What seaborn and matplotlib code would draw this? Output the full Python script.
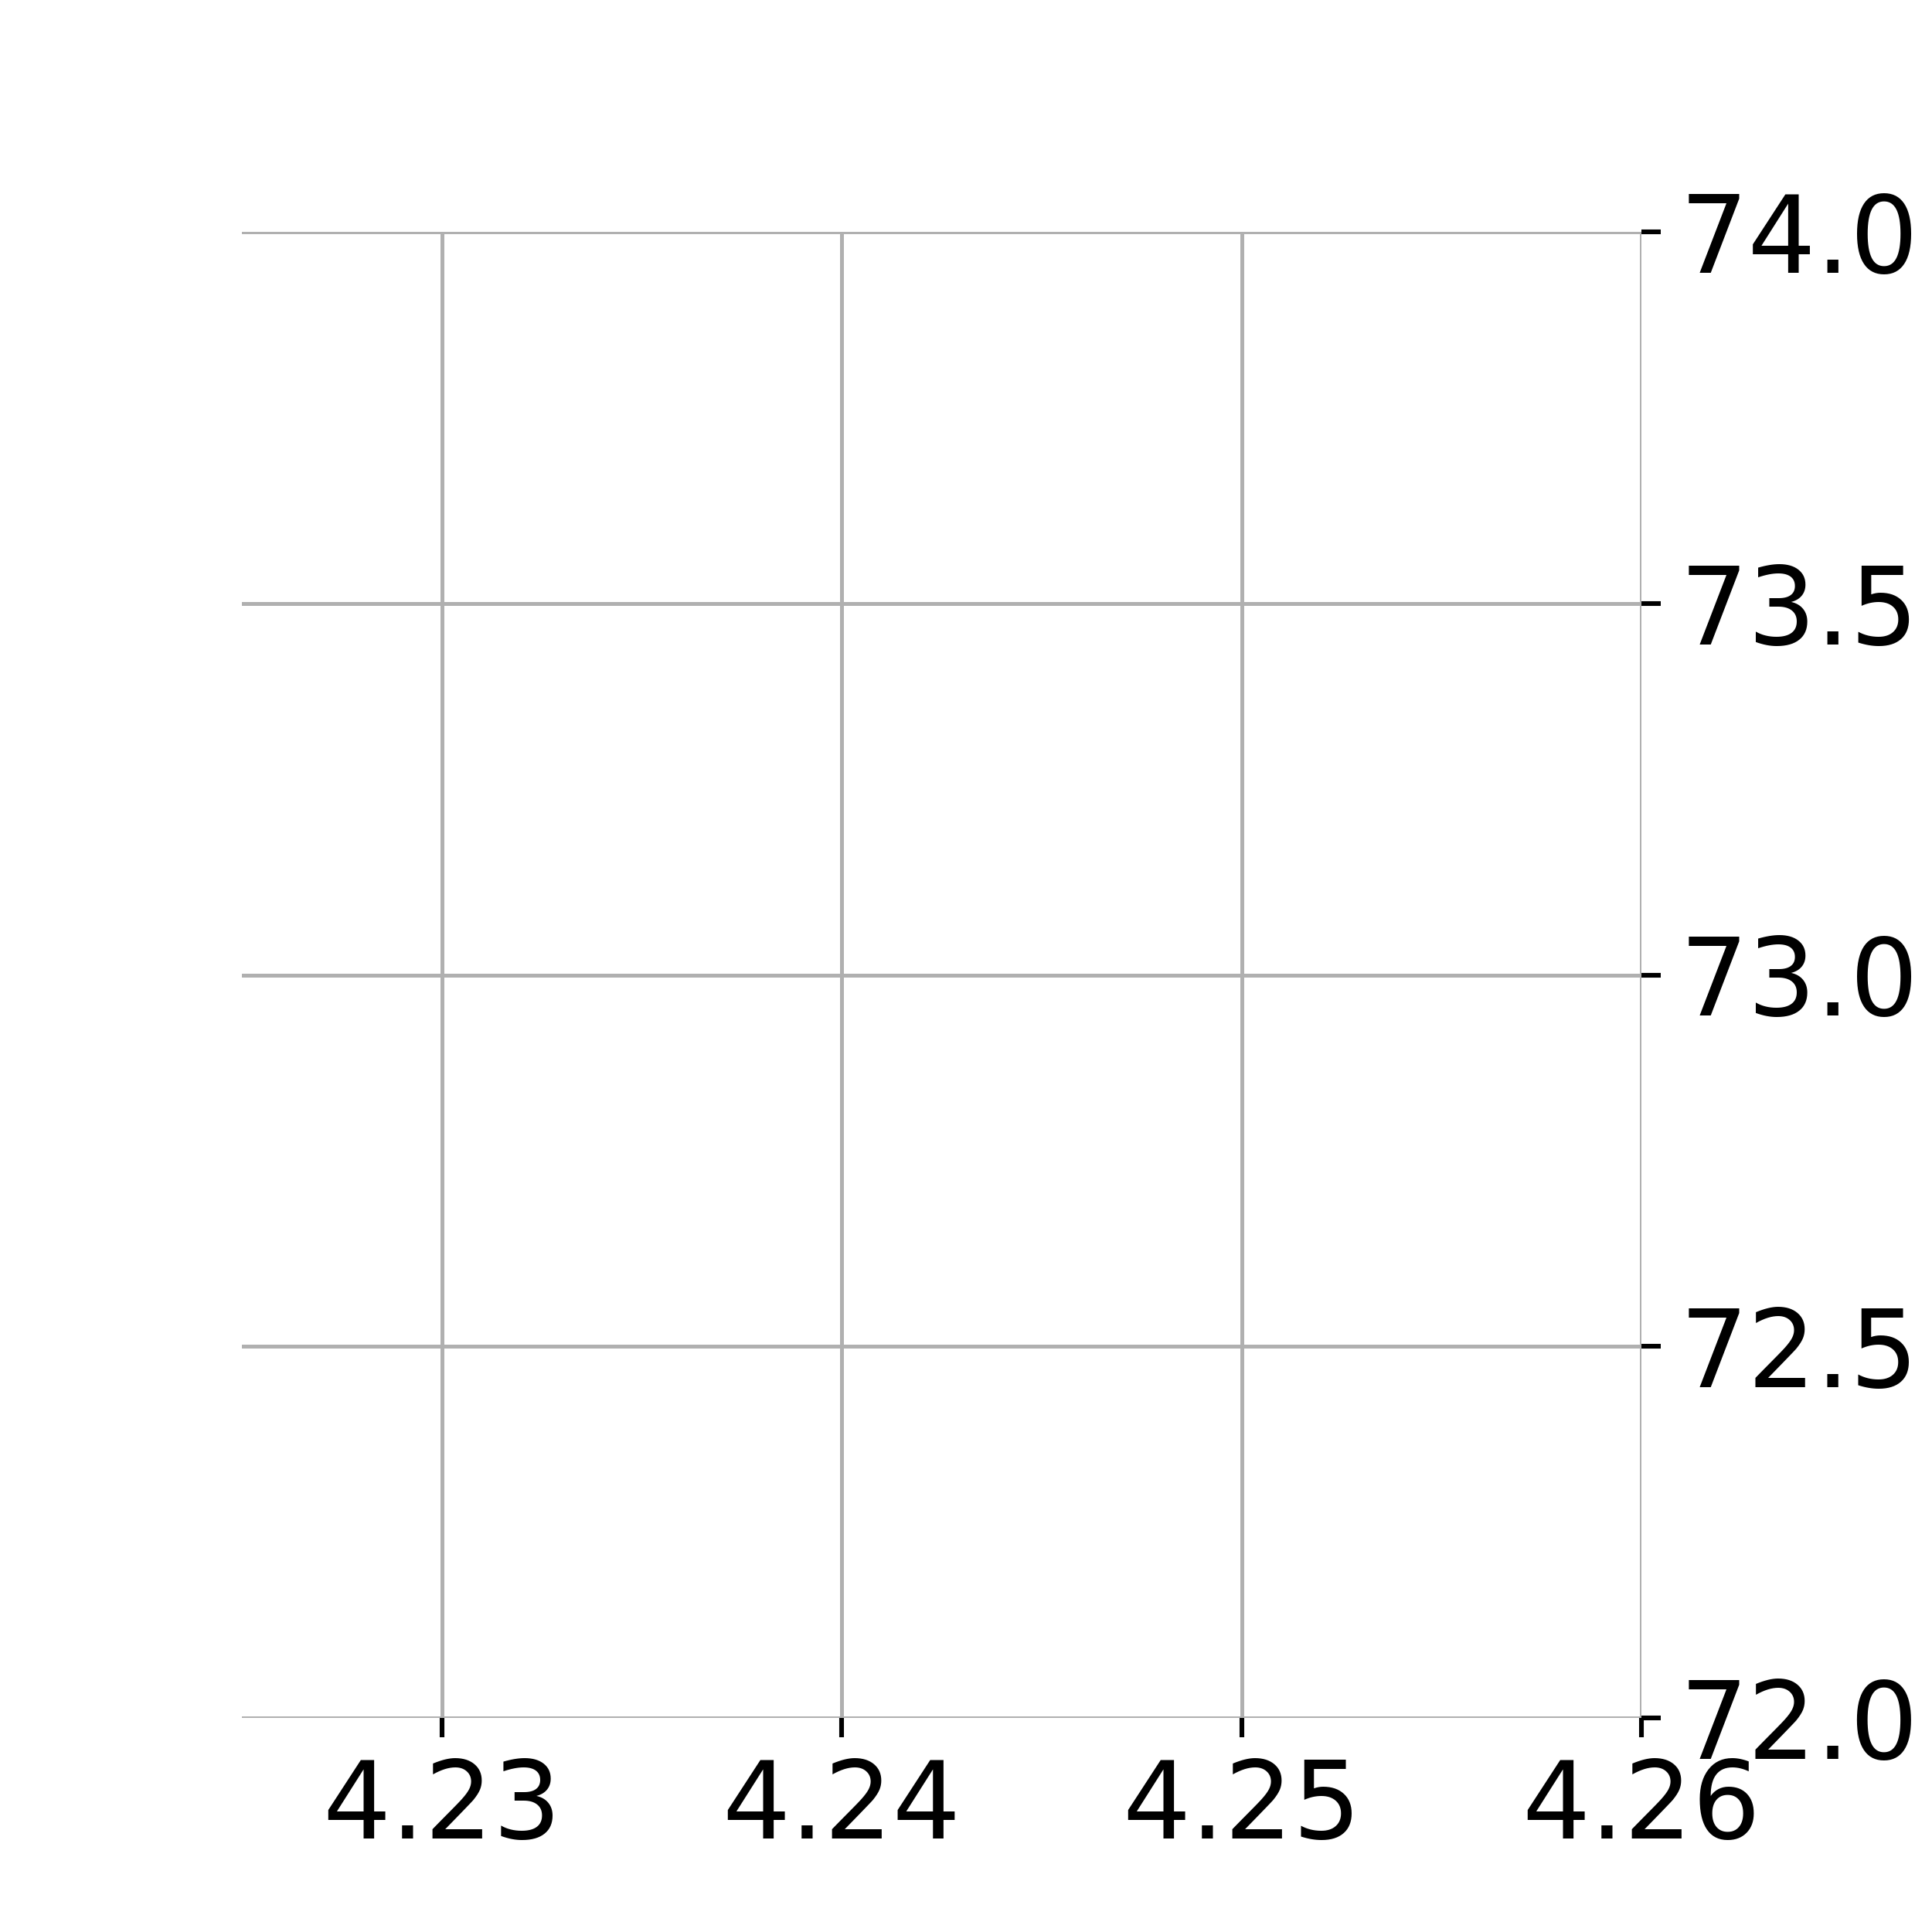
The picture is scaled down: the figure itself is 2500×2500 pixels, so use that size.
import matplotlib
matplotlib.use("Agg")
import matplotlib.pyplot as plt
import seaborn as sns

# data (the chart shows no marks, only the frame of its axes)
x_vals = []
y_vals = []
x_ticks = [4.23, 4.24, 4.25, 4.26]
x_labels = ["4.23", "4.24", "4.25", "4.26"]
y_ticks = [72.0, 72.5, 73.0, 73.5, 74.0]
y_labels = ["72.0", "72.5", "73.0", "73.5", "74.0"]
x_range = (4.225, 4.26)
y_range = (72.0, 74.0)

sns.set_theme(style="white")
plt.rcParams["font.family"] = ["DejaVu Sans"]

fig = plt.figure(figsize=(12.5, 12.5), dpi=200)
ax = fig.add_axes([0.1252, 0.1108, 0.8496 - 0.1252, 0.88 - 0.1108])

sns.scatterplot(x=x_vals, y=y_vals, ax=ax)

ax.set_xlim(*x_range)
ax.set_ylim(*y_range)
ax.set_xticks(x_ticks)
ax.set_xticklabels(x_labels)
ax.set_yticks(y_ticks)
ax.set_yticklabels(y_labels)

ax.yaxis.tick_right()
ax.yaxis.set_label_position("right")

for s in ax.spines.values():
    s.set_visible(False)

ax.grid(True, color="#b0b0b0", linewidth=1.8)
ax.set_axisbelow(True)

ax.tick_params(axis="both", which="major", length=9, width=2.2, color="black",
               labelsize=50, labelcolor="black", pad=9)
ax.tick_params(axis="x", bottom=True, top=False)
ax.tick_params(axis="y", right=True, left=False)
ax.set_xlabel("")
ax.set_ylabel("")

fig.savefig("out.png", dpi=200, facecolor="white")
